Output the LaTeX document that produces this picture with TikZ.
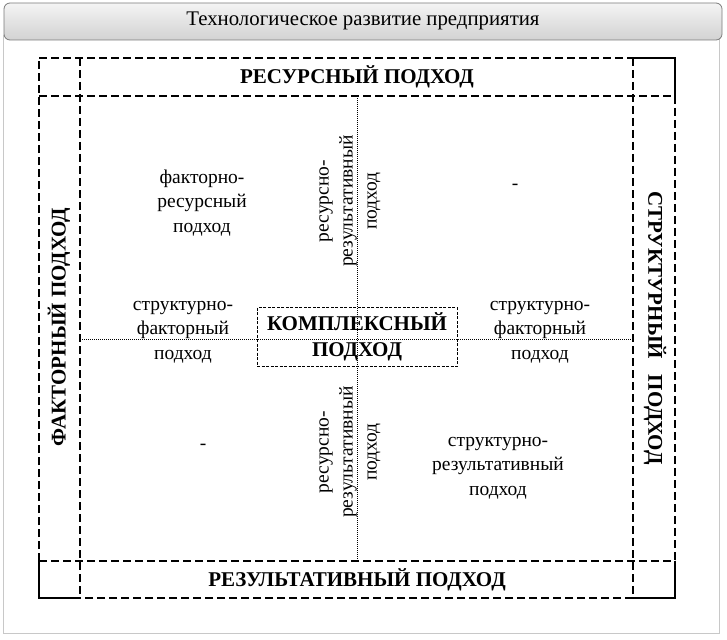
\documentclass[tikz,border=0pt]{standalone}
\usepackage{fontspec}
\setmainfont{Liberation Serif}
\usetikzlibrary{calc}
\definecolor{cPanel}{HTML}{C8C8C8}
\definecolor{cBarTop}{HTML}{F4F4F4}
\definecolor{cBarBot}{HTML}{D2D2D2}
\definecolor{cBarLine}{HTML}{7A7A7A}

\tikzset{
  txt/.style={align=center,inner sep=0pt,font=\fontsize{19.5}{24.5}\selectfont},
  head/.style={align=center,inner sep=0pt,font=\fontsize{21}{26}\selectfont\bfseries},
  longdash/.style={line width=1.2pt,dash pattern=on 8pt off 4pt},
  solidpart/.style={line width=1.2pt},
  axisline/.style={line width=0.8pt,dash pattern=on 1pt off 1pt},
}

\begin{document}
\begin{tikzpicture}[x=1pt,y=-1pt]
  \useasboundingbox (0,0) rectangle (727,639);
  % panel and title bar
  \draw[cPanel,line width=1pt] (3,36) rectangle (719,633);
  \shade[top color=cBarTop,bottom color=cBarBot,draw=cBarLine,line width=0.8pt,rounded corners=6pt] (4,3) rectangle (722,40);
  \node[font=\fontsize{20.8}{24}\selectfont] (title) at (363,21) {Технологическое развитие предприятия};
  % outer frame
  \draw[longdash] (39,58) -- (633,58);
  \draw[solidpart] (633,58) -- (675,58) -- (675,96);
  \draw[longdash] (675,96) -- (675,561);
  \draw[solidpart] (675,561) -- (675,598) -- (633,598);
  \draw[longdash] (633,598) -- (80,598);
  \draw[solidpart] (80,598) -- (39,598) -- (39,561);
  \draw[longdash] (39,561) -- (39,58);
  % inner strips
  \draw[longdash] (39,96) -- (675,96);
  \draw[longdash] (39,561) -- (675,561);
  \draw[longdash] (80,58) -- (80,598);
  \draw[longdash] (633,58) -- (633,598);
  % axes
  \draw[axisline] (357,96) -- (357,561);
  \draw[axisline] (80,339) -- (633,339);
  % approaches
  \node[head] (res) at (357,77) {РЕСУРСНЫЙ ПОДХОД};
  \node[head] (rez) at (357,580) {РЕЗУЛЬТАТИВНЫЙ ПОДХОД};
  \node[head,rotate=90] (fak) at (59,327) {ФАКТОРНЫЙ ПОДХОД};
  \node[head,rotate=-90] (str) at (655,328) {СТРУКТУРНЫЙ\hspace{0.5em} ПОДХОД};
  \node[head,draw,line width=1pt,dash pattern=on 3pt off 1.5pt,minimum width=200pt,minimum height=59pt] (kompl) at (357,337) {КОМПЛЕКСНЫЙ\\ПОДХОД};
  \node[txt] (fakres) at (202,203) {факторно-\\ресурсный\\подход};
  \foreach \n/\x in {l/183,r/540}
    \node[txt] (strfak-\n) at (\x,332) {структурно-\\факторный\\подход};
  \node[txt] (strrez) at (498,468) {структурно-\\результативный\\подход};
  \foreach \n/\y in {u/201,d/452}
    \node[txt,rotate=90,font=\fontsize{19.5}{24}\selectfont] (resrez-\n) at (350,\y) {ресурсно-\\результативный\\подход};
  \foreach \n/\x/\y in {u/515/187,d/203/447}
    \node[txt] (none-\n) at (\x,\y) {-};
\end{tikzpicture}
\end{document}
